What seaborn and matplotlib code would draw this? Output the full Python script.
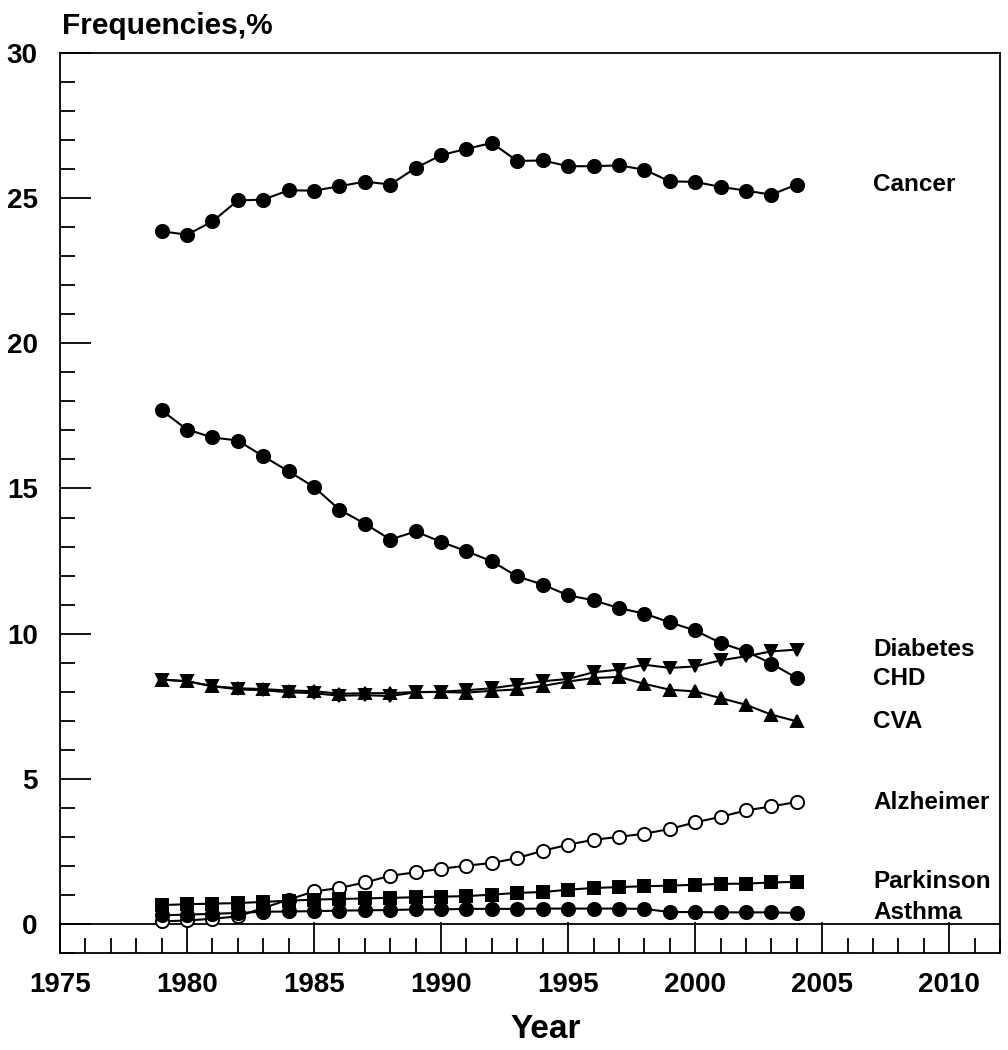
import matplotlib
matplotlib.use("Agg")
import matplotlib.pyplot as plt
from matplotlib.ticker import MultipleLocator
import seaborn as sns

years = list(range(1979, 2005))

cancer = [23.86, 23.74, 24.20, 24.92, 24.95, 25.27, 25.26, 25.41, 25.57, 25.47, 26.04, 26.48, 26.70,
          26.90, 26.28, 26.30, 26.10, 26.10, 26.13, 25.98, 25.58, 25.56, 25.39, 25.26, 25.12, 25.47]
chd = [17.69, 17.03, 16.76, 16.65, 16.11, 15.59, 15.05, 14.27, 13.79, 13.24, 13.52, 13.16, 12.84,
       12.49, 11.97, 11.69, 11.32, 11.15, 10.88, 10.69, 10.39, 10.11, 9.68, 9.39, 8.97, 8.47]
diabetes = [8.42, 8.36, 8.19, 8.08, 8.05, 7.98, 7.95, 7.86, 7.88, 7.85, 7.98, 8.00, 8.05,
            8.12, 8.24, 8.36, 8.44, 8.67, 8.76, 8.93, 8.82, 8.87, 9.08, 9.22, 9.39, 9.45]
cva = [8.42, 8.36, 8.19, 8.12, 8.09, 8.04, 8.02, 7.93, 7.95, 7.95, 7.99, 7.99, 7.97,
       8.03, 8.08, 8.20, 8.35, 8.47, 8.51, 8.27, 8.07, 8.01, 7.78, 7.55, 7.21, 6.98]
alzheimer = [0.09, 0.12, 0.18, 0.26, 0.55, 0.84, 1.12, 1.24, 1.43, 1.66, 1.78, 1.90, 2.01,
             2.10, 2.27, 2.52, 2.73, 2.90, 3.00, 3.11, 3.27, 3.50, 3.69, 3.91, 4.05, 4.20]
parkinson = [0.65, 0.68, 0.70, 0.72, 0.76, 0.80, 0.84, 0.86, 0.88, 0.90, 0.92, 0.94, 0.96,
             1.01, 1.07, 1.10, 1.18, 1.24, 1.27, 1.30, 1.32, 1.35, 1.38, 1.39, 1.43, 1.45]
asthma = [0.30, 0.32, 0.35, 0.38, 0.42, 0.43, 0.44, 0.46, 0.47, 0.48, 0.50, 0.50, 0.52,
          0.52, 0.52, 0.53, 0.53, 0.53, 0.53, 0.52, 0.41, 0.41, 0.40, 0.40, 0.40, 0.38]

series = [
    ("Cancer", cancer, "o", "black", 9.5),
    ("CHD", chd, "o", "black", 9.5),
    ("Diabetes", diabetes, "v", "black", 9),
    ("CVA", cva, "^", "black", 9),
    ("Alzheimer", alzheimer, "o", "white", 9.5),
    ("Parkinson", parkinson, "s", "black", 8),
    ("Asthma", asthma, "o", "black", 9.5),
]

sns.set_style("ticks")
plt.rcParams.update({
    "font.family": ["Liberation Sans", "DejaVu Sans"],
    "font.weight": "bold",
    "text.color": "black",
    "axes.labelcolor": "black",
    "xtick.color": "black",
    "ytick.color": "black",
    "axes.edgecolor": "black",
})

fig = plt.figure(figsize=(10.08, 10.5), dpi=100)
ax = fig.add_axes([60 / 1008, 1 - 953 / 1050, 940 / 1008, 900 / 1050])

for name, vals, mk, face, ms in series:
    sns.lineplot(x=years, y=vals, ax=ax, color="black", linewidth=1.5,
                 marker=mk, markersize=ms, markerfacecolor=face,
                 markeredgecolor="black", markeredgewidth=1.4, legend=False)
    ax.text(2007, vals[-1], name, ha="left", va="center",
            fontsize=17.5, fontweight="bold", color="black")

ax.axhline(0, color="black", linewidth=1.3, zorder=1)

ax.set_xlim(1975, 2012)
ax.set_ylim(-1, 30)
ax.xaxis.set_major_locator(MultipleLocator(5))
ax.xaxis.set_minor_locator(MultipleLocator(1))
ax.yaxis.set_major_locator(MultipleLocator(5))
ax.yaxis.set_minor_locator(MultipleLocator(1))
ax.tick_params(which="both", direction="in", bottom=True, left=True,
               top=False, right=False, width=1.3, colors="black")
ax.tick_params(which="major", length=22)
ax.tick_params(which="minor", length=11)
ax.tick_params(axis="x", which="major", labelsize=20, pad=14)
ax.tick_params(axis="y", which="major", labelsize=20, pad=16)
for lab in ax.get_xticklabels() + ax.get_yticklabels():
    lab.set_fontweight("bold")
for sp in ax.spines.values():
    sp.set_visible(True)
    sp.set_color("black")
    sp.set_linewidth(1.3)

ax.set_xlabel("Year", fontsize=24, fontweight="bold")
ax.xaxis.set_label_coords(0.517, -0.068)
ax.set_ylabel("")
fig.text(62 / 1008, 1 - 26 / 1050, "Frequencies,%", ha="left", va="center",
         fontsize=21.5, fontweight="bold", color="black")

fig.savefig("out.png", dpi=100, facecolor="white")
